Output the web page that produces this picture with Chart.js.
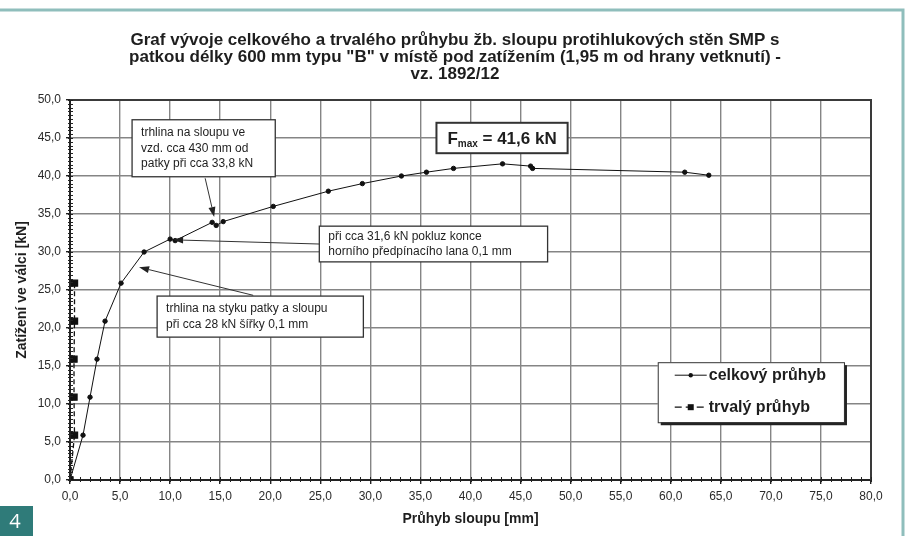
<!DOCTYPE html>
<html><head><meta charset="utf-8">
<script src="https://cdn.jsdelivr.net/npm/chart.js@4.4.0/dist/chart.umd.min.js"></script>
<style>html,body{margin:0;padding:0;background:#fff;}canvas{display:block}</style>
</head><body>
<canvas id="c" width="908" height="536"></canvas>
<script>
// ---- data ----
const titleLines = [
  'Graf vývoje celkového a trvalého průhybu žb. sloupu protihlukových stěn SMP s',
  'patkou délky 600 mm typu "B" v místě pod zatížením (1,95 m od hrany vetknutí) -',
  'vz. 1892/12'
];
const xTitle = 'Průhyb sloupu [mm]';
const yTitle = 'Zatížení ve válci [kN]';
const seriesNames = ['celkový průhyb', 'trvalý průhyb'];

const totalX = [0, 1.3, 2.0, 2.7, 3.5, 5.1, 7.4, 10.0, 10.5, 14.2, 14.6, 15.3, 20.3, 25.8, 29.2, 33.1, 35.6, 38.3, 43.2, 46.0, 46.2, 61.4, 63.8];
const totalY = [0, 5.9, 10.9, 15.9, 20.9, 25.9, 30.0, 31.7, 31.5, 33.9, 33.5, 34.0, 36.0, 38.0, 39.0, 40.0, 40.5, 41.0, 41.6, 41.3, 41.0, 40.5, 40.1];

const permX = [0, 0.45, 0.4, 0.4, 0.45, 0.45];
const permY = [0, 5.9, 10.9, 15.9, 20.9, 25.9];

const xTickValues = [0,5,10,15,20,25,30,35,40,45,50,55,60,65,70,75,80];
const yTickValues = [0,5,10,15,20,25,30,35,40,45,50];

const fmaxText = ['F', 'max', ' = 41,6 kN'];

const notes = [
  {box:[6.2, 47.4, 20.5, 39.9], lines:['trhlina na sloupu ve','vzd. cca 430 mm od','patky při cca 33,8 kN'], from:[13.5, 39.7], to:[14.4, 34.6]},
  {box:[24.9, 33.4, 47.7, 28.7], lines:['při cca 31,6 kN pokluz konce','horního předpínacího lana 0,1 mm'], from:[24.9, 31.05], to:[10.3, 31.6]},
  {box:[8.7, 24.2, 29.3, 18.8], lines:['trhlina na styku patky a sloupu','při cca 28 kN šířky 0,1 mm'], from:[18.3, 24.3], to:[6.9, 28.0]}
];
const fmaxBox = [36.6, 47.0, 49.7, 43.0];
const legendBox = [58.7, 15.5, 77.3, 7.6];

// ---- helpers ----
const fmt = v => Number(v).toFixed(1).replace('.', ',');
const TXT = '#1e1e1e';

function arrow(ctx, x0, y0, x1, y1) {
  const a = Math.atan2(y1 - y0, x1 - x0);
  const L = 10, W = 3.5;
  const bx = x1 - L * Math.cos(a), by = y1 - L * Math.sin(a);
  ctx.beginPath(); ctx.moveTo(x0, y0); ctx.lineTo(bx, by); ctx.stroke();
  ctx.beginPath();
  ctx.moveTo(x1, y1);
  ctx.lineTo(bx + W * Math.sin(a), by - W * Math.cos(a));
  ctx.lineTo(bx - W * Math.sin(a), by + W * Math.cos(a));
  ctx.closePath(); ctx.fill();
}

const decor = {
  id: 'decor',
  beforeDraw(chart) {
    const ctx = chart.ctx;
    ctx.save();
    ctx.fillStyle = '#fff'; ctx.fillRect(0, 0, chart.width, chart.height);
    ctx.strokeStyle = '#8fbebc'; ctx.lineWidth = 3;
    ctx.beginPath(); ctx.moveTo(0, 10); ctx.lineTo(903, 10); ctx.lineTo(903, 536); ctx.stroke();
    ctx.restore();
  },
  afterDatasetsDraw(chart) {
    const ctx = chart.ctx, xs = chart.scales.x, ys = chart.scales.y, ca = chart.chartArea;
    const px = v => xs.getPixelForValue(v), py = v => ys.getPixelForValue(v);
    ctx.save();
    ctx.strokeStyle = '#3a3a3a'; ctx.lineWidth = 2;
    ctx.beginPath(); ctx.moveTo(ca.left, ca.top); ctx.lineTo(ca.right, ca.top); ctx.lineTo(ca.right, ca.bottom); ctx.stroke();
    // minor ticks
    ctx.strokeStyle = '#222'; ctx.lineWidth = 1;
    ctx.beginPath();
    for (let v = 0; v <= 80; v += 1) { const x = Math.round(px(v)) + 0.5; ctx.moveTo(x, ca.bottom - 3); ctx.lineTo(x, ca.bottom + 2); }
    for (let v = 0; v <= 50; v += 0.5) { const y = Math.round(py(v)) + 0.5; ctx.moveTo(ca.left - 2, y); ctx.lineTo(ca.left + 3, y); }
    ctx.stroke();

    // annotation boxes
    ctx.font = '12px "Liberation Sans", Arial, sans-serif';
    ctx.textBaseline = 'middle'; ctx.textAlign = 'left';
    notes.forEach(n => {
      const x0 = px(n.box[0]), y0 = py(n.box[1]), x1 = px(n.box[2]), y1 = py(n.box[3]);
      ctx.fillStyle = '#fff'; ctx.fillRect(x0, y0, x1 - x0, y1 - y0);
      ctx.strokeStyle = '#333'; ctx.lineWidth = 1.3; ctx.strokeRect(x0, y0, x1 - x0, y1 - y0);
      ctx.fillStyle = TXT;
      const lh = 15.5, cy = (y0 + y1) / 2, start = cy - (n.lines.length - 1) * lh / 2;
      n.lines.forEach((t, i) => ctx.fillText(t, x0 + 9, start + i * lh));
      ctx.strokeStyle = '#333'; ctx.fillStyle = '#222'; ctx.lineWidth = 1;
      arrow(ctx, px(n.from[0]), py(n.from[1]), px(n.to[0]), py(n.to[1]));
    });

    // Fmax box
    {
      const x0 = px(fmaxBox[0]), y0 = py(fmaxBox[1]), x1 = px(fmaxBox[2]), y1 = py(fmaxBox[3]);
      ctx.fillStyle = '#fff'; ctx.fillRect(x0, y0, x1 - x0, y1 - y0);
      ctx.strokeStyle = '#333'; ctx.lineWidth = 2; ctx.strokeRect(x0, y0, x1 - x0, y1 - y0);
      const big = 'bold 17px "Liberation Sans", Arial, sans-serif', small = 'bold 10px "Liberation Sans", Arial, sans-serif';
      ctx.font = big; const w1 = ctx.measureText(fmaxText[0]).width, w3 = ctx.measureText(fmaxText[2]).width;
      ctx.font = small; const w2 = ctx.measureText(fmaxText[1]).width;
      let x = (x0 + x1) / 2 - (w1 + w2 + w3) / 2; const base = (y0 + y1) / 2 + 6;
      ctx.fillStyle = TXT; ctx.textBaseline = 'alphabetic';
      ctx.font = big; ctx.fillText(fmaxText[0], x, base); x += w1;
      ctx.font = small; ctx.fillText(fmaxText[1], x, base + 3); x += w2;
      ctx.font = big; ctx.fillText(fmaxText[2], x, base);
    }

    // legend
    {
      const x0 = px(legendBox[0]), y0 = py(legendBox[1]), x1 = px(legendBox[2]), y1 = py(legendBox[3]);
      ctx.fillStyle = '#222'; ctx.fillRect(x0 + 3, y0 + 3, x1 - x0, y1 - y0);
      ctx.fillStyle = '#fff'; ctx.fillRect(x0, y0, x1 - x0, y1 - y0);
      ctx.strokeStyle = '#333'; ctx.lineWidth = 1; ctx.strokeRect(x0 + 0.5, y0 + 0.5, x1 - x0, y1 - y0);
      const rows = [y0 + 13, y0 + 45];
      const lx0 = x0 + 17, lx1 = x0 + 49, mx = (lx0 + lx1) / 2;
      ctx.strokeStyle = '#111'; ctx.fillStyle = '#111';
      ctx.lineWidth = 1; ctx.beginPath(); ctx.moveTo(lx0, rows[0]); ctx.lineTo(lx1, rows[0]); ctx.stroke();
      ctx.beginPath(); ctx.arc(mx, rows[0], 2.2, 0, Math.PI * 2); ctx.fill();
      ctx.lineWidth = 1.3; ctx.setLineDash([7, 4]);
      ctx.beginPath(); ctx.moveTo(lx0, rows[1]); ctx.lineTo(lx1, rows[1]); ctx.stroke(); ctx.setLineDash([]);
      ctx.fillRect(mx - 3, rows[1] - 3, 6, 6);
      ctx.font = 'bold 16px "Liberation Sans", Arial, sans-serif'; ctx.textBaseline = 'middle'; ctx.fillStyle = TXT;
      ctx.fillText(seriesNames[0], lx1 + 2, rows[0]);
      ctx.fillText(seriesNames[1], lx1 + 2, rows[1]);
    }
    ctx.restore();
  },
  afterDraw(chart) {
    const ctx = chart.ctx, ca = chart.chartArea;
    ctx.save();
    ctx.fillStyle = TXT; ctx.textAlign = 'center'; ctx.textBaseline = 'middle';
    ctx.font = 'bold 17px "Liberation Sans", Arial, sans-serif';
    const cx = 455;
    titleLines.forEach((t, i) => ctx.fillText(t, cx, 40 + i * 17));
    ctx.font = 'bold 14px "Liberation Sans", Arial, sans-serif';
    ctx.fillText(xTitle, (ca.left + ca.right) / 2, 519);
    ctx.translate(22, (ca.top + ca.bottom) / 2); ctx.rotate(-Math.PI / 2);
    ctx.fillText(yTitle, 0, 0);
    ctx.restore();
    ctx.save();
    ctx.fillStyle = '#2f7b79'; ctx.fillRect(0, 506, 33, 30);
    ctx.fillStyle = '#fff'; ctx.font = '20px "Open Sans", "Liberation Sans", sans-serif';
    ctx.textAlign = 'center'; ctx.textBaseline = 'middle'; ctx.fillText('4', 15, 522);
    ctx.restore();
  }
};

const tickFont = {family: '"Liberation Sans", Arial, sans-serif', size: 12};
new Chart(document.getElementById('c'), {
  type: 'line',
  data: {
    datasets: [
      {label: seriesNames[0], data: totalX.map((x, i) => ({x, y: totalY[i]})),
       borderColor: '#111', backgroundColor: '#111', borderWidth: 1, pointRadius: 2.2, pointHoverRadius: 2.2, tension: 0},
      {label: seriesNames[1], data: permX.map((x, i) => ({x, y: permY[i]})),
       borderColor: '#111', backgroundColor: '#111', borderWidth: 1.3, borderDash: [5, 3],
       pointStyle: 'rect', pointRadius: 4.3, pointHoverRadius: 4.3, tension: 0}
    ]
  },
  options: {
    responsive: false, animation: false, devicePixelRatio: 1,
    layout: {padding: {top: 100, right: 37, left: 0, bottom: 0}},
    plugins: {legend: {display: false}, title: {display: false}, tooltip: {enabled: false}},
    scales: {
      x: {type: 'linear', min: 0, max: 80,
        afterBuildTicks: s => { s.ticks = xTickValues.map(v => ({value: v})); },
        afterFit: s => { s.height = 56; },
        ticks: {callback: v => fmt(v), font: tickFont, color: '#2a2a2a', padding: 5, maxRotation: 0, autoSkip: false},
        grid: {color: '#858585', lineWidth: 1.4, tickLength: 4, tickColor: '#222'},
        border: {display: true, color: '#222', width: 2}
      },
      y: {type: 'linear', min: 0, max: 50,
        afterBuildTicks: s => { s.ticks = yTickValues.map(v => ({value: v})); },
        afterFit: s => { s.width = 70; },
        ticks: {callback: v => fmt(v), font: tickFont, color: '#2a2a2a', padding: 5, autoSkip: false},
        grid: {color: '#858585', lineWidth: 1.4, tickLength: 4, tickColor: '#222'},
        border: {display: true, color: '#222', width: 2}
      }
    }
  },
  plugins: [decor]
});
</script>
</body></html>
